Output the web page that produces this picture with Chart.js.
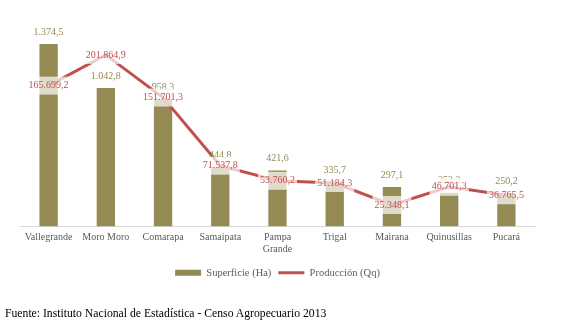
<!DOCTYPE html>
<html>
<head>
<meta charset="utf-8">
<script src="https://cdn.jsdelivr.net/npm/chart.js@4"></script>
<style>
  body { margin: 0; background: #fff; }
  #wrap { position: relative; width: 572px; height: 333px; }
  #fuente { position: absolute; left: 5px; top: 307px; font-family: "Liberation Serif", serif; font-size: 11.7px; color: #000; }
</style>
</head>
<body>
<div id="wrap">
  <canvas id="grafico" width="572" height="333"></canvas>
  <div id="fuente">Fuente: Instituto Nacional de Estadística - Censo Agropecuario 2013</div>
</div>
<script>
const municipios = ["Vallegrande", "Moro Moro", "Comarapa", "Samaipata", ["Pampa", "Grande"], "Trigal", "Mairana", "Quinusillas", "Pucará"];
const superficie = [1374.5, 1042.8, 958.3, 444.8, 421.6, 335.7, 297.1, 253.2, 250.2];
const produccion = [165699.2, 201864.9, 151701.3, 71537.8, 53760.2, 51184.3, 25348.1, 46701.3, 36765.5];

const OLIVO = "#948A54";
const ROJO = "#C0504D";
const FUENTE = "'Liberation Serif', serif";

// formato 1.234,5
function fmt(v){
    let partes = v.toFixed(1).split(".");
    let entero = partes[0].replace(/\B(?=(\d{3})+(?!\d))/g, ".");
    return entero + "," + partes[1];
}

const etiquetas = {
    id: "etiquetas",
    afterDatasetsDraw(chart){
        let ctx = chart.ctx;
        ctx.save();
        ctx.font = "10px " + FUENTE;
        ctx.textAlign = "center";
        ctx.textBaseline = "middle";

        let barras = chart.getDatasetMeta(0).data;
        barras.forEach(function(b, i){
            ctx.fillStyle = OLIVO;
            ctx.fillText(fmt(superficie[i]), b.x, b.y - 12);
        });

        let puntos = chart.getDatasetMeta(1).data;
        puntos.forEach(function(p, i){
            let txt = fmt(produccion[i]);
            let w = ctx.measureText(txt).width;
            ctx.fillStyle = "rgba(255,255,255,0.7)";
            ctx.fillRect(p.x - w/2 - 2, p.y - 9, w + 4, 18);
            ctx.fillStyle = ROJO;
            ctx.fillText(txt, p.x, p.y);
        });
        ctx.restore();
    }
};

new Chart(document.getElementById("grafico"), {
    type: "bar",
    data: {
        labels: municipios,
        datasets: [
            {
                label: "Superficie (Ha)",
                data: superficie,
                backgroundColor: OLIVO,
                yAxisID: "y",
                order: 1,
                categoryPercentage: 1,
                barPercentage: 0.32,
                pointStyle: "rect"
            },
            {
                type: "line",
                label: "Producción (Qq)",
                data: produccion,
                borderColor: ROJO,
                backgroundColor: ROJO,
                borderWidth: 3,
                pointRadius: 0,
                tension: 0,
                yAxisID: "y2",
                order: 0,
                pointStyle: "line"
            }
        ]
    },
    options: {
        responsive: false,
        animation: false,
        layout: { padding: { left: 20, right: 37, top: 14, bottom: 45 } },
        plugins: {
            legend: {
                position: "bottom",
                labels: {
                    usePointStyle: true,
                    pointStyleWidth: 26,
                    boxHeight: 6,
                    padding: 7,
                    color: "#595959",
                    font: { family: FUENTE, size: 10.5 },
                    sort: function(a, b){ return a.datasetIndex - b.datasetIndex; }
                }
            },
            tooltip: { enabled: false }
        },
        scales: {
            x: {
                grid: { display: false, drawTicks: false },
                border: { color: "#D9D9D9" },
                ticks: { color: "#595959", font: { family: FUENTE, size: 10 }, maxRotation: 0, padding: 5 }
            },
            y: { display: false, min: 0, max: 1600 },
            y2: { display: false, min: 0, max: 250000, position: "right" }
        }
    },
    plugins: [etiquetas]
});
</script>
</body>
</html>
